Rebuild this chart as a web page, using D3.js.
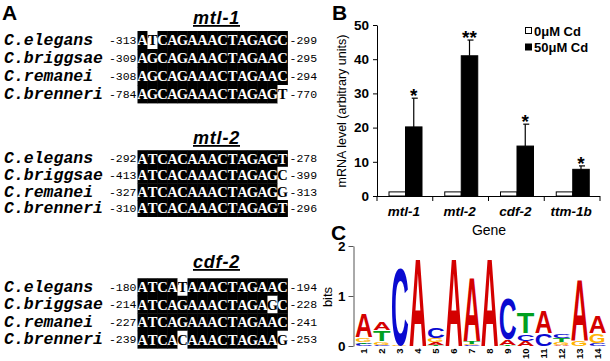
<!DOCTYPE html>
<html><head><meta charset="utf-8">
<script src="https://cdn.jsdelivr.net/npm/d3@7"></script>
<style>body{margin:0;background:#fff} svg{display:block}</style>
</head><body>
<svg id="chart" width="610" height="361"></svg>
<script>
// ---------------- Panel A data ----------------
const alignGenes = ["mtl-1", "mtl-2", "cdf-2"];
const species = ["C.elegans", "C.briggsae", "C.remanei", "C.brenneri"];
const startPos = [[-313, -309, -308, -784], [-292, -413, -327, -310], [-180, -214, -227, -239]];
const endPos = [[-299, -295, -294, -770], [-278, -399, -313, -296], [-194, -228, -241, -253]];
const sequences = [
  ["ATCAGAAACTAGAGC", "AGCAGAAACTAGAAC", "AGCAGAAACTAGAAC", "AGCAGAAACTAGAGT"],
  ["ATCACAAACTAGAGT", "ATCACAAACTAGAGC", "ATCACAAACTAGAGG", "ATCACAAACTAGAGT"],
  ["ATCATAAACTAGAAC", "ATCAGAAACTAGAGC", "ATCAGAAACTAGAAC", "ATCACAAACTAGAAG"]
];
const conserved = [
  ["101111111111111", "111111111111111", "111111111111111", "111111111111110"],
  ["111111111111111", "111111111111110", "111111111111110", "111111111111111"],
  ["111101111111111", "111111111111101", "111111111111111", "111101111111110"]
];

// ---------------- Panel B data ----------------
const genes = ["mtl-1", "mtl-2", "cdf-2", "ttm-1b"];
const treatments = ["0μM Cd", "50μM Cd"];
const control = [1.2, 1.2, 1.2, 1.2];
const cadmium = [20.2, 41.0, 14.6, 7.8];
const cadmiumErr = [8.4, 4.6, 6.4, 1.0];
const significance = ["*", "**", "*", "*"];
const yTicksB = [0, 10, 20, 30, 40, 50];

// ---------------- Panel C data ----------------
const logoPositions = [1, 2, 3, 4, 5, 6, 7, 8, 9, 10, 11, 12, 13, 14];
// stacks listed bottom -> top : [base, bits]
const logoStacks = [
  [["C", 0.05], ["T", 0.04], ["G", 0.10], ["A", 0.52]],
  [["C", 0.03], ["G", 0.07], ["T", 0.22], ["A", 0.18]],
  [["G", 0.02], ["C", 1.75]],
  [["A", 1.98]],
  [["T", 0.03], ["A", 0.05], ["G", 0.08], ["C", 0.23]],
  [["A", 1.98]],
  [["C", 0.02], ["G", 0.03], ["T", 0.05], ["A", 1.45]],
  [["A", 1.98]],
  [["T", 0.03], ["A", 0.12], ["C", 0.93]],
  [["A", 0.11], ["C", 0.15], ["T", 0.47]],
  [["C", 0.27], ["A", 0.50]],
  [["A", 0.02], ["G", 0.06], ["T", 0.08], ["C", 0.10]],
  [["G", 0.13], ["A", 1.40]],
  [["C", 0.07], ["G", 0.20], ["A", 0.37]]
];
const bitsTicks = [0, 1, 2];
const baseColors = { A: "#d40000", C: "#0a0ad0", G: "#ffb300", T: "#00a020" };

// ---------------- drawing ----------------
const SANS = "'Liberation Sans', Arial, sans-serif";
const MONO = "'Liberation Mono', 'Courier New', monospace";
const SERIF = "'Liberation Serif', 'Times New Roman', serif";
const svg = d3.select("#chart");

// panel letters
svg.append("text").attr("x", 2).attr("y", 20).text("A")
  .style("font", `bold 21px ${SANS}`);
svg.append("text").attr("x", 332).attr("y", 20).text("B")
  .style("font", `bold 21px ${SANS}`);
svg.append("text").attr("x", 331).attr("y", 240).text("C")
  .style("font", `bold 21px ${SANS}`);

// ---- Panel A ----
const layoutA = [
  { titleY: 24, rowY0: 40, step: 18 },
  { titleY: 144, rowY0: 158.5, step: 16.6 },
  { titleY: 268, rowY0: 287, step: 17.5 }
];
const xs = d3.scaleBand().domain(d3.range(15)).range([137.5, 287.5]);

alignGenes.forEach((g, gi) => {
  const L = layoutA[gi];
  const grp = svg.append("g");
  grp.append("text").attr("x", 216.5).attr("y", L.titleY).attr("text-anchor", "middle")
    .text(g).style("font", `italic bold 18px ${SANS}`).style("letter-spacing", "0.8px")
    .style("text-decoration", "underline");
  species.forEach((sp, si) => {
    const cy = L.rowY0 + si * L.step;
    grp.append("text").attr("x", 4).attr("y", cy + 4.8).text(sp)
      .style("font", `italic bold 16.5px ${MONO}`);
    grp.append("text").attr("x", 136.5).attr("y", cy + 3.8).attr("text-anchor", "end")
      .text(startPos[gi][si]).style("font", `11.5px ${MONO}`);
    grp.append("text").attr("x", 289.5).attr("y", cy + 3.8)
      .text(endPos[gi][si]).style("font", `11.5px ${MONO}`);
    const chars = sequences[gi][si].split("");
    const mask = conserved[gi][si];
    grp.selectAll(null).data(chars).join("rect")
      .attr("x", (d, i) => xs(i)).attr("y", cy - L.step / 2)
      .attr("width", xs.bandwidth() + 0.4).attr("height", L.step + 0.4)
      .attr("fill", (d, i) => mask[i] === "1" ? "#000" : "#fff");
    grp.selectAll(null).data(chars).join("text")
      .attr("x", (d, i) => xs(i) + xs.bandwidth() / 2).attr("y", cy + 5)
      .attr("text-anchor", "middle").text(d => d)
      .attr("fill", (d, i) => mask[i] === "1" ? "#fff" : "#000")
      .style("font", `bold 14.5px ${SERIF}`);
  });
});

// ---- Panel B ----
const yB = d3.scaleLinear().domain([0, 50]).range([196, 25]);
const xB = d3.scaleBand().domain(genes).range([377, 600]).padding(0);
const xInner = d3.scaleBand().domain(treatments).range([12, 45]).padding(0);
const gB = svg.append("g");

const yAxB = gB.append("g").attr("transform", "translate(377,0)")
  .call(d3.axisLeft(yB).tickValues(yTicksB).tickSize(4).tickSizeOuter(0).tickPadding(4));
yAxB.selectAll("text").style("font", `bold 13.5px ${SANS}`).attr("fill", "#000");
yAxB.selectAll("line,path").attr("stroke", "#000");

gB.append("text").attr("transform", "translate(346,111) rotate(-90)")
  .attr("text-anchor", "middle").text("mRNA level (arbitrary units)")
  .style("font", `12.5px ${SANS}`);

const barData = [];
genes.forEach((g, i) => {
  barData.push({ g, t: treatments[0], v: control[i] });
  barData.push({ g, t: treatments[1], v: cadmium[i] });
});
gB.selectAll(".bar").data(barData).join("rect").attr("class", "bar")
  .attr("x", d => xB(d.g) + xInner(d.t)).attr("width", xInner.bandwidth())
  .attr("y", d => yB(d.v)).attr("height", d => yB(0) - yB(d.v))
  .attr("fill", d => d.t === treatments[0] ? "#fff" : "#000")
  .attr("stroke", "#000").attr("stroke-width", 1);

// error bars
genes.forEach((g, i) => {
  const cx = xB(g) + xInner(treatments[1]) + xInner.bandwidth() / 2;
  const top = yB(cadmium[i] + cadmiumErr[i]);
  gB.append("line").attr("x1", cx).attr("x2", cx).attr("y1", yB(cadmium[i])).attr("y2", top)
    .attr("stroke", "#000").attr("stroke-width", 1.2);
  gB.append("line").attr("x1", cx - 2).attr("x2", cx + 4).attr("y1", top).attr("y2", top)
    .attr("stroke", "#000").attr("stroke-width", 1.2);
  gB.append("text").attr("x", cx).attr("y", top + 4).attr("text-anchor", "middle")
    .text(significance[i]).style("font", `bold 19px ${SANS}`);
});

// x axis
gB.append("line").attr("x1", 377).attr("x2", 600).attr("y1", 196.5).attr("y2", 196.5)
  .attr("stroke", "#000");
const bounds = genes.map(g => xB(g)).concat([xB.range()[1]]);
gB.selectAll(".bt").data(bounds).join("line").attr("class", "bt")
  .attr("x1", d => d).attr("x2", d => d).attr("y1", 196).attr("y2", 201).attr("stroke", "#000");
gB.selectAll(".xl").data(genes).join("text").attr("class", "xl")
  .attr("x", d => xB(d) + xB.bandwidth() / 2 - 1).attr("y", 216).attr("text-anchor", "middle")
  .text(d => d).style("font", `italic bold 13.5px ${SANS}`);
gB.append("text").attr("x", 489).attr("y", 235).attr("text-anchor", "middle")
  .text("Gene").style("font", `14px ${SANS}`);

// legend
const leg = gB.append("g");
treatments.forEach((t, i) => {
  const ly = 31 + i * 16.5;
  leg.append("rect").attr("x", 525.5).attr("y", ly - 3.5).attr("width", 6).attr("height", 6)
    .attr("fill", i === 0 ? "#fff" : "#000").attr("stroke", "#000");
  leg.append("text").attr("x", 534).attr("y", ly + 4.5).text(t)
    .style("font", `bold 13px ${SANS}`);
});

// ---- Panel C ----
const yC = d3.scaleLinear().domain([0, 2]).range([346, 246]);
const xC = d3.scaleBand().domain(logoPositions).range([355, 606]).paddingInner(0.04);
const gC = svg.append("g");
const yAxC = gC.append("g").attr("transform", "translate(353.5,0)")
  .call(d3.axisLeft(yC).tickValues(bitsTicks).tickFormat(d3.format("d")).tickSize(5).tickSizeOuter(0).tickPadding(3));
yAxC.selectAll("text").style("font", `bold 13.5px ${SANS}`).attr("fill", "#000");
yAxC.selectAll("line,path").attr("stroke", "#555");
gC.append("text").attr("transform", "translate(332,297) rotate(-90)")
  .attr("text-anchor", "middle").text("bits").style("font", `13px ${SANS}`);

const BASE_FS = 10;
const ctx = document.createElement("canvas").getContext("2d");
ctx.font = `bold ${BASE_FS}px ${SANS}`;
const inkCache = {};
function ink(ch) {
  if (!inkCache[ch]) {
    const m = ctx.measureText(ch);
    inkCache[ch] = { l: m.actualBoundingBoxLeft, r: m.actualBoundingBoxRight,
                     a: m.actualBoundingBoxAscent, d: m.actualBoundingBoxDescent };
  }
  return inkCache[ch];
}
logoPositions.forEach((p, i) => {
  let acc = 0;
  const x0 = xC(p), w = xC.bandwidth();
  logoStacks[i].forEach(([b, bits]) => {
    const yBot = yC(acc), yTop = yC(acc + bits);
    acc += bits;
    const h = yBot - yTop;
    if (h < 0.4) return;
    const m = ink(b);
    const sx = w / (m.l + m.r), sy = h / (m.a + m.d);
    gC.append("text").attr("x", 0).attr("y", 0).text(b)
      .attr("transform", `translate(${x0 + m.l * sx},${yTop + m.a * sy}) scale(${sx},${sy})`)
      .attr("fill", baseColors[b]).style("font", `bold ${BASE_FS}px ${SANS}`);
  });
});
gC.selectAll(".pl").data(logoPositions).join("text").attr("class", "pl")
  .attr("transform", d => `translate(${xC(d) + xC.bandwidth() / 2 + 3.5},348.5) rotate(-90)`)
  .attr("text-anchor", "end").text(d => d)
  .style("font", `bold 9.5px ${SANS}`);
</script>
</body></html>
